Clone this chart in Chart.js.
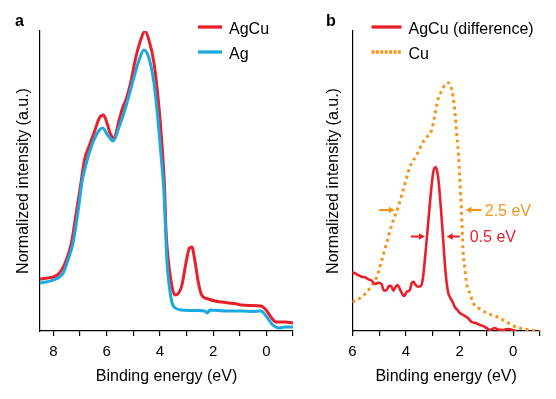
<!DOCTYPE html>
<html>
<head>
<meta charset="utf-8">
<script src="https://cdn.jsdelivr.net/npm/chart.js@4.4.0/dist/chart.umd.min.js"></script>
<style>
  body { margin: 0; background: #fff; }
  #wrap { position: relative; width: 556px; height: 399px; }
  canvas { position: absolute; top: 0; }
</style>
</head>
<body>
<div id="wrap">
  <canvas id="chartA" width="300" height="399" style="left:0"></canvas>
  <canvas id="chartB" width="256" height="399" style="left:300px"></canvas>
</div>
<script>
'use strict';

// panel a: AgCu and Ag spectra (binding energy in eV, intensity in a.u.)
let agcuEnergy = [8.5, 8.2, 8.0, 7.85, 7.69, 7.51, 7.32, 7.14, 6.98, 6.83, 6.64, 6.46, 6.27, 6.12, 6.02, 5.87, 5.72, 5.53, 5.4, 5.25, 5.09, 4.9, 4.72, 4.56, 4.41, 4.22, 4.07, 3.94, 3.82, 3.77, 3.67, 3.54, 3.44, 3.29, 3.17, 3.02, 2.89, 2.8, 2.67, 2.55, 2.43, 2.18, 1.93, 1.7, 1.43, 1.2, 0.94, 0.6, 0.2, 0.01, -0.17, -0.36, -0.7, -1.0];
let agcuValues = [52, 53, 54, 56, 61, 71, 88, 118, 145, 171, 186, 199, 213, 216, 211, 198, 193, 211, 223, 233, 249, 274, 291, 300, 291, 268, 234, 194, 141, 101, 68, 44, 36, 38, 46, 68, 83, 84, 68, 48, 36, 32, 30, 29, 28, 27.5, 26, 25.5, 25, 21, 14, 9, 9, 8];

let agEnergy = [8.5, 8.0, 7.63, 7.45, 7.26, 7.08, 6.91, 6.76, 6.52, 6.27, 6.15, 5.96, 5.75, 5.53, 5.28, 5.03, 4.78, 4.6, 4.41, 4.22, 4.07, 3.94, 3.85, 3.8, 3.73, 3.64, 3.54, 3.42, 3.17, 2.6, 2.31, 2.22, 2.12, 1.5, 0.94, 0.5, 0.2, 0.01, -0.24, -0.49, -0.7, -1.0];
let agValues = [48, 51, 58, 71, 88, 118, 151, 168, 188, 201, 203, 196, 190, 204, 224, 248, 271, 281, 273, 248, 211, 171, 141, 110, 68, 44, 28, 23, 21, 20.5, 20, 18, 21, 20, 20, 19.5, 20, 15, 6, 3, 4, 4];

// panel b: AgCu minus Ag, and Cu reference
let diffEnergy = [6.02, 5.9, 5.78, 5.65, 5.53, 5.4, 5.28, 5.15, 5.03, 4.91, 4.82, 4.72, 4.63, 4.56, 4.47, 4.38, 4.31, 4.22, 4.14, 4.06, 3.97, 3.85, 3.79, 3.71, 3.64, 3.54, 3.44, 3.36, 3.26, 3.17, 3.07, 2.98, 2.89, 2.8, 2.7, 2.61, 2.52, 2.42, 2.36, 2.24, 2.18, 2.08, 1.99, 1.86, 1.74, 1.62, 1.55, 1.4, 1.24, 1.05, 0.87, 0.69, 0.55, 0.38, 0.2, -0.12];
let diffValues = [59, 57.7, 56, 54.3, 53.7, 51.7, 50.3, 47, 48.3, 47, 40.3, 41, 45, 45.3, 40.3, 44.3, 46, 41.7, 37, 35, 39.3, 41, 47.7, 49.3, 46, 44.3, 45, 54, 81, 108, 138, 159, 164, 154, 124, 91, 58, 38, 34, 28, 24, 21, 18, 16, 14, 11, 9, 8, 6, 4, 1, 3, 1.5, 1, 2, 0];

let cuEnergy = [6.0, 5.65, 5.34, 5.09, 4.9, 4.72, 4.53, 4.29, 4.1, 3.85, 3.6, 3.42, 3.29, 3.04, 2.92, 2.8, 2.67, 2.52, 2.42, 2.34, 2.24, 2.18, 2.11, 2.05, 1.99, 1.93, 1.87, 1.8, 1.74, 1.62, 1.49, 1.24, 0.99, 0.5, 0.38, -0.12, -0.62, -1.0];
let cuValues = [29, 34, 43, 54, 71, 88, 106, 124, 141, 164, 176, 186, 192, 201, 216, 232, 240, 247, 248, 246, 234, 221, 198, 180, 152, 120, 81, 62, 48, 38, 28, 22, 18, 13, 11, 4, 1, 0];

let aTicks = [8, 7, 6, 5, 4, 3, 2, 1, 0, -1];
let bTicks = [6, 5, 4, 3, 2, 1, 0, -1];
let tickLabels = ['8', '6', '4', '2', '0'];

let fontFamily = '"Liberation Sans", Arial, Helvetica, sans-serif';
let red = '#e8202a';
let blue = '#1aa9e0';
let orange = '#f7941e';

function pts(xs, ys) {
    return xs.map((x, i) => ({ x: x, y: ys[i] }));
}

function arrow(ctx, x1, x2, y, color) {
    let dir = Math.sign(x2 - x1);
    ctx.strokeStyle = color;
    ctx.fillStyle = color;
    ctx.lineWidth = 2;
    ctx.beginPath();
    ctx.moveTo(x1, y);
    ctx.lineTo(x2 - dir * 5, y);
    ctx.stroke();
    ctx.beginPath();
    ctx.moveTo(x2, y);
    ctx.lineTo(x2 - dir * 6, y - 3.2);
    ctx.lineTo(x2 - dir * 6, y + 3.2);
    ctx.closePath();
    ctx.fill();
}

// panel letter, legend in the plot and the width arrows
const extras = {
    id: 'extras',
    afterDatasetsDraw(chart, args, o) {
        let ctx = chart.ctx;
        let xs = chart.scales.x;
        let ys = chart.scales.y;
        ctx.save();
        ctx.textBaseline = 'alphabetic';
        ctx.fillStyle = '#000';
        ctx.font = 'bold 16px ' + fontFamily;
        ctx.fillText(o.letter, o.letterX, 26);

        ctx.font = '16px ' + fontFamily;
        o.legend.forEach((item, i) => {
            let ds = chart.data.datasets[item.ds];
            let y = o.legendY + i * o.legendGap;
            ctx.strokeStyle = ds.borderColor;
            ctx.lineWidth = 3.3;
            ctx.setLineDash(item.dash || []);
            ctx.beginPath();
            ctx.moveTo(o.legendX, y);
            ctx.lineTo(o.legendX + o.legendLen, y);
            ctx.stroke();
            ctx.setLineDash([]);
            ctx.fillStyle = '#000';
            ctx.fillText(ds.label, o.legendX + o.legendLen + 7, y + 6.5);
        });

        (o.arrows || []).forEach(a => {
            arrow(ctx, xs.getPixelForValue(a.from), xs.getPixelForValue(a.to), ys.getPixelForValue(a.y), a.color);
        });
        (o.notes || []).forEach(n => {
            ctx.fillStyle = n.color;
            ctx.fillText(n.text, xs.getPixelForValue(n.x), ys.getPixelForValue(n.y) + 5.5);
        });
        ctx.restore();
    }
};

function makeOptions(tickList, xmin, xmax, yWidth, yTitlePad, rightPad, extraOpts) {
    return {
        responsive: false,
        animation: false,
        devicePixelRatio: 1,
        layout: { padding: { top: 31, right: rightPad, left: 0, bottom: 0 } },
        elements: { point: { radius: 0 } },
        plugins: {
            legend: { display: false },
            tooltip: { enabled: false },
            extras: extraOpts
        },
        scales: {
            x: {
                type: 'linear',
                reverse: true,
                min: xmin,
                max: xmax,
                afterBuildTicks: s => { s.ticks = tickList.map(v => ({ value: v })); },
                afterFit: s => { s.height = 68; },
                ticks: {
                    autoSkip: false,
                    maxRotation: 0,
                    padding: 7,
                    color: '#000',
                    font: { family: fontFamily, size: 15 },
                    callback: v => tickLabels.includes(String(v)) ? String(v) : ''
                },
                grid: { drawOnChartArea: false, drawTicks: true, tickLength: 5, color: '#000', lineWidth: 1.2 },
                border: { display: true, color: '#000', width: 1.2 },
                title: {
                    display: true,
                    text: 'Binding energy (eV)',
                    color: '#000',
                    font: { family: fontFamily, size: 16 },
                    padding: { top: 0, bottom: 13 }
                }
            },
            y: {
                min: 0,
                max: 300,
                afterFit: s => { s.width = yWidth; },
                ticks: { display: false },
                grid: { display: false },
                border: { display: true, color: '#000', width: 1.2 },
                title: {
                    display: true,
                    text: 'Normalized intensity (a.u.)',
                    color: '#000',
                    font: { family: fontFamily, size: 16 },
                    padding: { top: yTitlePad, bottom: 0 }
                }
            }
        }
    };
}

new Chart(document.getElementById('chartA'), {
    type: 'line',
    data: {
        datasets: [
            {
                label: 'AgCu',
                data: pts(agcuEnergy, agcuValues),
                borderColor: red,
                borderWidth: 3,
                cubicInterpolationMode: 'monotone',
                order: 1
            },
            {
                label: 'Ag',
                data: pts(agEnergy, agValues),
                borderColor: blue,
                borderWidth: 3,
                cubicInterpolationMode: 'monotone',
                order: 0
            }
        ]
    },
    options: makeOptions(aTicks, -1, 8.5, 40, 14, 2.3, {
        letter: 'a', letterX: 15,
        legendX: 198, legendY: 27, legendGap: 25, legendLen: 24,
        legend: [{ ds: 0 }, { ds: 1 }]
    }),
    plugins: [extras]
});

new Chart(document.getElementById('chartB'), {
    type: 'line',
    data: {
        datasets: [
            {
                label: 'AgCu (difference)',
                data: pts(diffEnergy, diffValues),
                borderColor: red,
                borderWidth: 2.6,
                cubicInterpolationMode: 'monotone',
                order: 0
            },
            {
                label: 'Cu',
                data: pts(cuEnergy, cuValues),
                borderColor: orange,
                borderWidth: 3,
                borderDash: [3, 3.6],
                cubicInterpolationMode: 'monotone',
                order: 1
            }
        ]
    },
    options: makeOptions(bTicks, -1, 6, 52.3, 24, 16, {
        letter: 'b', letterX: 26,
        legendX: 71.5, legendY: 27, legendGap: 25, legendLen: 30,
        legend: [{ ds: 0 }, { ds: 1, dash: [3, 1.4] }],
        arrows: [
            { from: 5.01, to: 4.41, y: 121, color: orange },
            { from: 1.18, to: 1.78, y: 121, color: orange },
            { from: 3.81, to: 3.29, y: 94.5, color: red },
            { from: 1.99, to: 2.48, y: 94.5, color: red }
        ],
        notes: [
            { text: '2.5 eV', x: 1.06, y: 121, color: orange },
            { text: '0.5 eV', x: 1.62, y: 94.5, color: red }
        ]
    }),
    plugins: [extras]
});
</script>
</body>
</html>
